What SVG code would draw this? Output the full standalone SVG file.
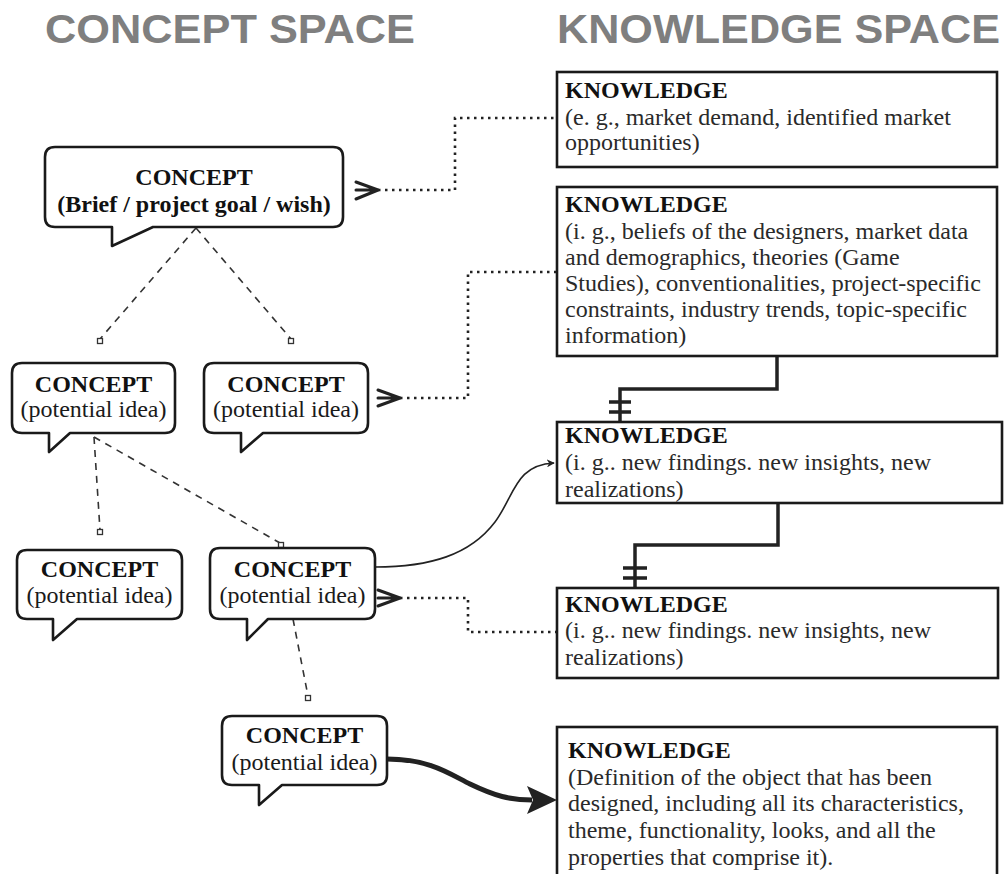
<svg xmlns="http://www.w3.org/2000/svg" width="1005" height="874" viewBox="0 0 1005 874">
<style>
.title{font-family:"Liberation Sans",Arial,sans-serif;font-weight:bold;font-size:41px;fill:#7f7f7f}
.bubble{fill:#fff;stroke:#1a1a1a;stroke-width:2.6;stroke-linejoin:round}
.kbox{fill:#fff;stroke:#1a1a1a;stroke-width:2.6}
.ct{font-family:"Liberation Serif","Times New Roman",serif;font-size:24px;fill:#1a1a1a;text-anchor:middle}
.kt{font-family:"Liberation Serif","Times New Roman",serif;font-size:24px;fill:#2a2a2a}
.b{font-weight:bold;fill:#111}
.dash{stroke:#333;stroke-width:1.6;stroke-dasharray:7 6;fill:none}
.end{fill:#fff;stroke:#333;stroke-width:1.3}
.dot{stroke:#222;stroke-width:2.6;stroke-dasharray:2.5 4.5;fill:none}
.crow{stroke:#222;stroke-width:3;fill:none;stroke-linecap:round;stroke-linejoin:round}
.solid{stroke:#222;stroke-width:3.5;fill:none}
</style>
<defs>
<marker id="ah" viewBox="0 0 10 10" refX="9" refY="5" markerWidth="5" markerHeight="5" orient="auto" markerUnits="strokeWidth">
<path d="M0,0 L10,5 L0,10 L3,5 Z" fill="#222"/>
</marker>
</defs>
<text class="title" x="45" y="43" textLength="370" lengthAdjust="spacingAndGlyphs">CONCEPT SPACE</text>
<text class="title" x="557" y="43" textLength="443" lengthAdjust="spacingAndGlyphs">KNOWLEDGE SPACE</text>

<g id="connectors">
<path class="dash" d="M196,228 L100,339"/>
<path class="dash" d="M196,228 L291,339"/>
<path class="dash" d="M94,437 L100,530"/>
<path class="dash" d="M94,437 L280,543"/>
<path class="dash" d="M293,619 L308,696"/>
<rect class="end" x="97.5" y="338.5" width="5" height="5"/>
<rect class="end" x="288.5" y="338.5" width="5" height="5"/>
<rect class="end" x="97.5" y="529.5" width="5" height="5"/>
<rect class="end" x="278.5" y="542.5" width="5" height="5"/>
<rect class="end" x="305.5" y="695.5" width="5" height="5"/>
<path class="crow" d="M356,182 L378,190 L356,199 M356,190 L378,190"/>
<path class="dot" d="M378,190 H455 V118 H557"/>
<path class="crow" d="M378,390 L400,398 L378,406 M378,398 L400,398"/>
<path class="dot" d="M400,398 H468 V272 H557"/>
<path class="crow" d="M378,590 L400,598 L378,606 M378,598 L400,598"/>
<path class="dot" d="M400,598 H468 V632 H557"/>
<path class="solid" d="M777,356 V389 H620 V422"/>
<path class="solid" stroke-width="3" d="M609,402 H631 M609,412 H631"/>
<path class="solid" d="M778,503 V545 H635 V588"/>
<path class="solid" stroke-width="3" d="M623,568 H647 M623,578 H647"/>
<path d="M375,567 C430,567 470,555 495,522 C515,495 515,465 554,463" fill="none" stroke="#222" stroke-width="1.6" marker-end="url(#ah)"/>
<path d="M387,759 C430,759 450,774 470,784 C495,796 510,800 532,800" fill="none" stroke="#222" stroke-width="5"/>
<path d="M527,786 L557,800 L527,814 L533,800 Z" fill="#222"/>
</g>

<g id="concept-brief">
<path class="bubble" d="M55,147 H333 Q343,147 343,157 V217 Q343,227 333,227 H153 L112,246 V227 H55 Q45,227 45,217 V157 Q45,147 55,147 Z"/>
<text class="ct b" x="194" y="185">CONCEPT</text>
<text class="ct b" x="194" y="212">(Brief / project goal / wish)</text>
</g>
<g id="concept-2a">
<path class="bubble" d="M22,363 H165 Q175,363 175,373 V423 Q175,433 165,433 H70 L49,452 V433 H22 Q12,433 12,423 V373 Q12,363 22,363 Z"/>
<text class="ct b" x="93.5" y="392">CONCEPT</text>
<text class="ct" x="93.5" y="417">(potential idea)</text>
</g>
<g id="concept-2b">
<path class="bubble" d="M214,363 H358 Q368,363 368,373 V423 Q368,433 358,433 H263 L241,452 V433 H214 Q204,433 204,423 V373 Q204,363 214,363 Z"/>
<text class="ct b" x="286" y="392">CONCEPT</text>
<text class="ct" x="286" y="417">(potential idea)</text>
</g>
<g id="concept-3a">
<path class="bubble" d="M27,550 H172 Q182,550 182,560 V609 Q182,619 172,619 H77 L53,640 V619 H27 Q17,619 17,609 V560 Q17,550 27,550 Z"/>
<text class="ct b" x="99.5" y="577">CONCEPT</text>
<text class="ct" x="99.5" y="603">(potential idea)</text>
</g>
<g id="concept-3b">
<path class="bubble" d="M220,548 H365 Q375,548 375,558 V609 Q375,619 365,619 H268 L247,640 V619 H220 Q210,619 210,609 V558 Q210,548 220,548 Z"/>
<text class="ct b" x="292.5" y="577">CONCEPT</text>
<text class="ct" x="292.5" y="603">(potential idea)</text>
</g>
<g id="concept-4">
<path class="bubble" d="M232,716 H377 Q387,716 387,726 V775 Q387,785 377,785 H282 L259,805 V785 H232 Q222,785 222,775 V726 Q222,716 232,716 Z"/>
<text class="ct b" x="304.5" y="743">CONCEPT</text>
<text class="ct" x="304.5" y="770">(potential idea)</text>
</g>

<g id="knowledge-1">
<rect class="kbox" x="557" y="72" width="440" height="95"/>
<text class="kt b" x="565" y="98">KNOWLEDGE</text>
<text class="kt" x="565" y="125">(e. g., market demand, identified market</text>
<text class="kt" x="565" y="150">opportunities)</text>
</g>
<g id="knowledge-2">
<rect class="kbox" x="557" y="187" width="440" height="169"/>
<text class="kt b" x="565" y="212">KNOWLEDGE</text>
<text class="kt" x="565" y="238.5">(i. g., beliefs of the designers, market data</text>
<text class="kt" x="565" y="265">and demographics, theories (Game</text>
<text class="kt" x="565" y="291">Studies), conventionalities, project-specific</text>
<text class="kt" x="565" y="317">constraints, industry trends, topic-specific</text>
<text class="kt" x="565" y="343">information)</text>
</g>
<g id="knowledge-3">
<rect class="kbox" x="557" y="422" width="445" height="81"/>
<text class="kt b" x="565" y="443">KNOWLEDGE</text>
<text class="kt" x="565" y="470">(i. g.. new findings. new insights, new</text>
<text class="kt" x="565" y="497">realizations)</text>
</g>
<g id="knowledge-4">
<rect class="kbox" x="557" y="588" width="441" height="90"/>
<text class="kt b" x="565" y="612">KNOWLEDGE</text>
<text class="kt" x="565" y="638">(i. g.. new findings. new insights, new</text>
<text class="kt" x="565" y="665">realizations)</text>
</g>
<g id="knowledge-5">
<rect class="kbox" x="557" y="727" width="440" height="152"/>
<text class="kt b" x="568" y="758">KNOWLEDGE</text>
<text class="kt" x="568" y="785">(Definition of the object that has been</text>
<text class="kt" x="568" y="811">designed, including all its characteristics,</text>
<text class="kt" x="568" y="838">theme, functionality, looks, and all the</text>
<text class="kt" x="568" y="865">properties that comprise it).</text>
</g>
</svg>
